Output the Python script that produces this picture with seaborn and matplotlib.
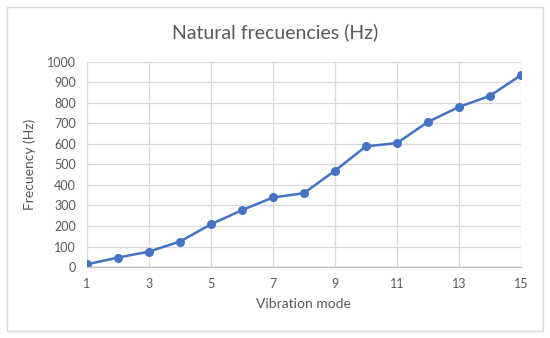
import matplotlib
matplotlib.use('Agg')
import matplotlib.pyplot as plt
import seaborn as sns
import pandas as pd
from matplotlib.patches import Rectangle

# Data
modes = list(range(1, 16))
freqs = [13, 46, 75, 124, 208, 277, 339, 360, 469, 588, 604, 707, 780, 834, 935]
x_ticks = [1, 3, 5, 7, 9, 11, 13, 15]
y_ticks = list(range(0, 1001, 100))

df = pd.DataFrame({'mode': modes, 'freq': freqs})

sns.set_theme(style='white')
plt.rcParams['font.family'] = ['Lato', 'DejaVu Sans']
grey = '#595959'

fig = plt.figure(figsize=(5.5, 3.38), dpi=100)
ax = fig.add_axes([0.158, 0.21, 0.789, 0.607])

sns.lineplot(data=df, x='mode', y='freq', ax=ax, color='#4472C4', linewidth=1.8,
             marker='o', markersize=6.5, markeredgewidth=0)

ax.set_xlim(1, 15)
ax.set_ylim(0, 1000)
ax.set_xticks(x_ticks)
ax.set_yticks(y_ticks)
ax.grid(True, color='#D9D9D9', linewidth=0.9)
ax.set_axisbelow(True)
for s in ['top', 'right', 'left']:
    ax.spines[s].set_visible(False)
ax.spines['bottom'].set_color('#BFBFBF')
ax.spines['bottom'].set_linewidth(1)
ax.tick_params(axis='both', length=0, labelsize=9, colors=grey, pad=8)
ax.set_xlabel('Vibration mode', fontsize=10, color=grey, labelpad=6)
ax.set_ylabel('Frecuency (Hz)', fontsize=10, color=grey, labelpad=8)

fig.text(0.5, 0.905, 'Natural frecuencies (Hz)', ha='center', va='center',
         fontsize=14, color=grey)

# light border around the whole chart
fig.patches.append(Rectangle((0.013, 0.02), 0.974, 0.96, transform=fig.transFigure,
                             fill=False, edgecolor='#D9D9D9', linewidth=1))

fig.savefig('out.png', dpi=100)
